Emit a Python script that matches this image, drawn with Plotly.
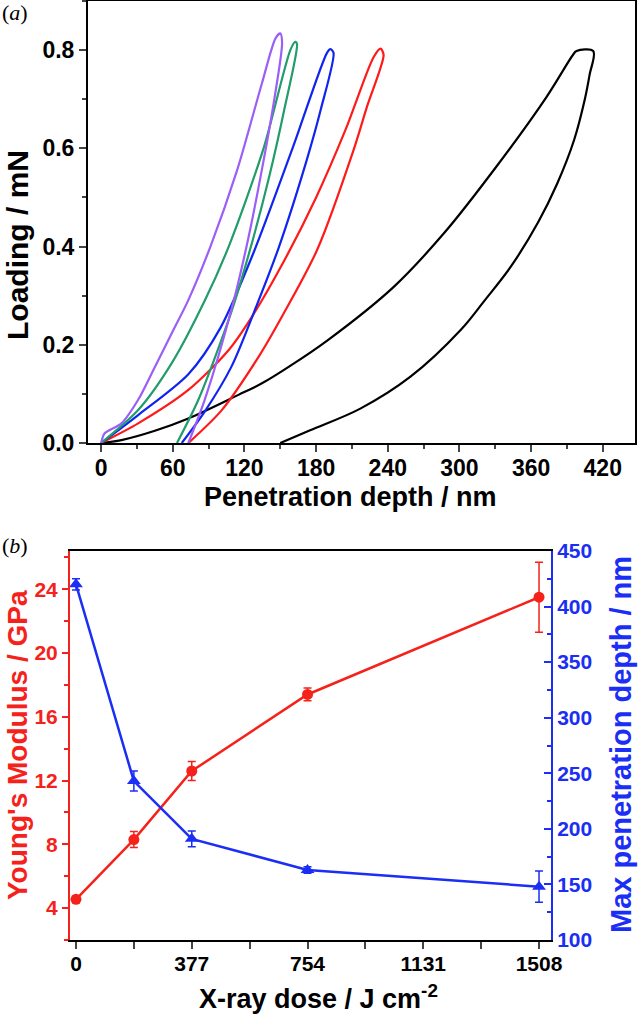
import plotly.graph_objects as go

# --- (a) load-displacement curves: penetration depth (nm), loading (mN) ---
black_x = [0, 17, 45, 73, 115, 135, 157, 189, 245, 287, 331, 373, 395, 398, 412,
           409, 405, 396, 382, 366, 343, 321, 301, 259, 217, 175, 150]
black_y = [0, 0.006, 0.025, 0.05, 0.098, 0.122, 0.155, 0.208, 0.318, 0.427, 0.563, 0.705, 0.79, 0.798, 0.798,
           0.75, 0.70, 0.617, 0.529, 0.45, 0.359, 0.29, 0.23, 0.135, 0.07, 0.026, 0]

red_x = [0, 31, 73, 107, 127, 153, 180, 205, 228, 234,
         236.5, 222.6, 211.4, 180.8, 152, 133, 101, 73]
red_y = [0, 0.04, 0.108, 0.19, 0.26, 0.37, 0.50, 0.64, 0.785, 0.803,
         0.79, 0.685, 0.597, 0.393, 0.26, 0.18, 0.067, 0]

blue_x = [0, 31, 73, 100, 128, 161, 189, 192,
          194.6, 184, 172, 149, 131, 109, 87, 67.5]
blue_y = [0, 0.057, 0.14, 0.235, 0.39, 0.605, 0.794, 0.802,
          0.794, 0.68, 0.575, 0.40, 0.285, 0.155, 0.065, 0]

green_x = [0, 31, 59, 87, 106.8, 136, 158.4, 162.6,
           164, 153, 141, 127.7, 109.6, 81.4, 63.5]
green_y = [0, 0.067, 0.162, 0.291, 0.40, 0.60, 0.80, 0.817,
           0.812, 0.675, 0.545, 0.42, 0.271, 0.088, 0]

purple_x = [0, 3, 17, 31, 45, 59, 73, 91.5, 113.8, 134.7, 146, 150,
            151.5, 145, 136, 123.5, 110, 87, 73]
purple_y = [0, 0.02, 0.04, 0.088, 0.155, 0.223, 0.291, 0.40, 0.555, 0.733, 0.824, 0.834,
            0.814, 0.70, 0.575, 0.42, 0.28, 0.09, 0]

# --- (b) vs X-ray dose ---
dose = [0, 188.5, 377, 754, 1508]
modulus = [4.55, 8.3, 12.6, 17.4, 23.5]
modulus_err = [0.2, 0.5, 0.6, 0.4, 2.2]
depth_max = [420, 243, 191, 163, 148]
depth_err = [5, 9, 7, 3, 14]
dose_ticks = [0, 377, 754, 1131, 1508]

RED = '#F5221B'
BLUE = '#1A2EF5'
FONT = 'Liberation Sans'

fig = go.Figure()

curves = [
    (black_x, black_y, '#000000', 1.0),
    (red_x, red_y, '#FF1A1A', 0.8),
    (blue_x, blue_y, '#1024F0', 0.8),
    (green_x, green_y, '#229C6A', 0.8),
    (purple_x, purple_y, '#9B5EF7', 0.8),
]
for cx, cy, col, sm in curves:
    fig.add_trace(go.Scatter(x=cx, y=cy, mode='lines', xaxis='x', yaxis='y',
                             line=dict(color=col, width=2.2, shape='spline', smoothing=sm),
                             showlegend=False))

fig.add_trace(go.Scatter(x=dose, y=depth_max, mode='lines+markers', xaxis='x2', yaxis='y3',
                         line=dict(color=BLUE, width=2.5),
                         marker=dict(symbol='triangle-up', size=12, color=BLUE),
                         error_y=dict(type='data', array=depth_err, color=BLUE, thickness=1.5, width=4),
                         showlegend=False))
fig.add_trace(go.Scatter(x=dose, y=modulus, mode='lines+markers', xaxis='x2', yaxis='y2',
                         line=dict(color=RED, width=2.5),
                         marker=dict(symbol='circle', size=11, color=RED),
                         error_y=dict(type='data', array=modulus_err, color=RED, thickness=1.5, width=4),
                         showlegend=False))

W, H = 640, 1015
tick_top = dict(family=FONT, size=23, color='black', weight='bold')
tick_bot = dict(family=FONT, size=21, color='black', weight='bold')

fig.update_layout(
    width=W, height=H,
    margin=dict(l=0, r=0, t=0, b=0),
    paper_bgcolor='white', plot_bgcolor='white',
    font=dict(family=FONT),
    xaxis=dict(domain=[88 / W, 635 / W], anchor='y', range=[-11, 447], automargin=False,
               tickmode='linear', tick0=0, dtick=60, ticks='outside', ticklen=7, tickwidth=1.5,
               ticklabelstandoff=-4,
               minor=dict(tick0=0, dtick=30, ticks='outside', ticklen=4, tickwidth=1.5),
               showline=True, linewidth=2, linecolor='black', mirror=True,
               showgrid=False, zeroline=False, tickfont=tick_top),
    xaxis3=dict(overlaying='x', side='top', anchor='y', range=[-11, 447], automargin=False,
                tickmode='linear', tick0=0, dtick=30, ticks='inside', ticklen=7, tickwidth=1.5,
                showticklabels=False, showline=False, showgrid=False, zeroline=False),
    yaxis=dict(domain=[1 - 443 / H, 1 - 1 / H], anchor='x', range=[0, 0.9], automargin=False,
               tickmode='linear', tick0=0, dtick=0.2, tickformat='.1f',
               ticks='outside', ticklen=7, tickwidth=1.5,
               minor=dict(tick0=0, dtick=0.1, ticks='outside', ticklen=4, tickwidth=1.5),
               showline=True, linewidth=2, linecolor='black', mirror=True,
               showgrid=False, zeroline=False, tickfont=tick_top),
    xaxis2=dict(domain=[70 / W, 551 / W], anchor='y2', range=[-19.5, 1547], automargin=False,
                tickmode='array', tickvals=dose_ticks, ticks='outside', ticklen=7, tickwidth=1.5,
                ticklabelstandoff=-3,
                minor=dict(tick0=0, dtick=188.5, ticks='outside', ticklen=7, tickwidth=1.5),
                showline=True, linewidth=2, linecolor='black', mirror=True,
                showgrid=False, zeroline=False, tickfont=tick_bot),
    xaxis4=dict(overlaying='x2', side='top', anchor='y2', range=[-19.5, 1547], automargin=False,
                tickmode='linear', tick0=0, dtick=188.5, ticks='inside', ticklen=7, tickwidth=1.5,
                showticklabels=False, showline=False, showgrid=False, zeroline=False),
    yaxis2=dict(domain=[1 - 940 / H, 1 - 551 / H], anchor='x2', range=[2, 26.4], automargin=False,
                tickmode='linear', tick0=0, dtick=4, ticks='outside', ticklen=6, tickwidth=1.5,
                minor=dict(tick0=0, dtick=2, ticks='outside', ticklen=4, tickwidth=1.5, tickcolor=RED),
                tickcolor=RED, showline=True, linewidth=2, linecolor=RED,
                showgrid=False, zeroline=False,
                tickfont=dict(family=FONT, size=21, color=RED, weight='bold')),
    yaxis3=dict(overlaying='y2', side='right', anchor='x2', range=[100, 450], automargin=False,
                tickmode='linear', tick0=0, dtick=50, ticks='inside', ticklen=7, tickwidth=1.5,
                minor=dict(tick0=0, dtick=25, ticks='inside', ticklen=4, tickwidth=1.5, tickcolor=BLUE),
                tickcolor=BLUE, showline=True, linewidth=2, linecolor=BLUE,
                showgrid=False, zeroline=False,
                tickfont=dict(family=FONT, size=21, color=BLUE, weight='bold')),
)

notes = [
    ("Loading / mN", 17, 245, -90, 30, 'black'),
    ("Penetration depth / nm", 350, 497, 0, 27, 'black'),
    ("Young's Modulus / GPa", 17, 745, -90, 28, RED),
    ("Max penetration depth / nm", 621, 745, -90, 29, BLUE),
    ("X-ray dose / J cm<sup>-2</sup>", 318, 997, 0, 27, 'black'),
]
for txt, px, py, ang, sz, col in notes:
    fig.add_annotation(text=txt, x=px / W, y=1 - py / H, xref='paper', yref='paper',
                       showarrow=False, textangle=ang, xanchor='center', yanchor='middle',
                       font=dict(family=FONT, size=sz, color=col, weight='bold'))

for txt, py in [("(<i>a</i>)", 13), ("(<i>b</i>)", 545)]:
    fig.add_annotation(text=txt, x=15 / W, y=1 - py / H, xref='paper', yref='paper',
                       showarrow=False, xanchor='center', yanchor='middle',
                       font=dict(family='Liberation Serif', size=22, color='black'))

# the page body has a default 8px margin; drop it so the figure sits at the window corner
fig.write_html("out.html", config={'displayModeBar': False},
               post_script="document.body.style.margin='0';")
